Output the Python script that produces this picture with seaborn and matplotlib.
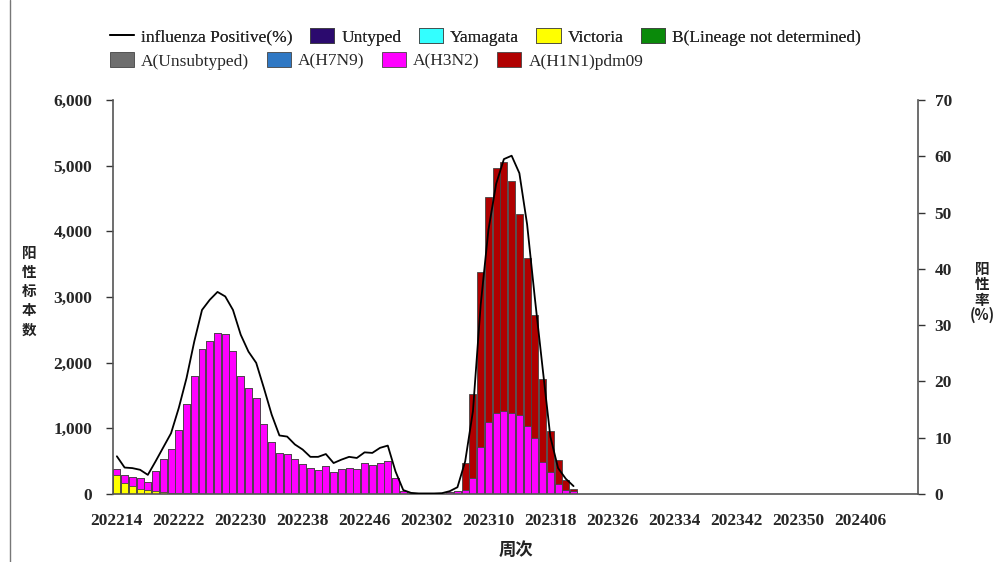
import numpy as np
import pandas as pd
import matplotlib
matplotlib.use("Agg")
import matplotlib.pyplot as plt
import seaborn as sns
from matplotlib.lines import Line2D
from matplotlib.patches import Patch

# week categories 202214 .. 202413
weeks = ([f"2022{w:02d}" for w in range(14, 53)] + [f"2023{w:02d}" for w in range(1, 53)]
         + [f"2024{w:02d}" for w in range(1, 14)])
tick_labels = ["202214", "202222", "202230", "202238", "202246", "202302", "202310",
               "202318", "202326", "202334", "202342", "202350", "202406"]

# counts per week, 202214 .. 202321
victoria = [282, 170, 128, 77, 56, 41, 31, 20, 15, 10, 8, 6, 5, 4, 4, 3, 3, 3, 2, 2,
            2, 2, 2, 2, 2, 2, 2, 2, 2, 2, 2, 2, 2, 2, 2, 2, 1, 0, 0, 0,
            0, 0, 0, 0, 0, 0, 0, 0, 0, 0, 0, 0, 0, 0, 0, 0, 0, 0, 0, 0]
h3n2 = [103, 112, 134, 164, 124, 308, 497, 662, 959, 1364, 1787, 2199, 2323, 2447, 2437, 2176,
        1792, 1617, 1465, 1065, 783, 618, 603, 526, 459, 388, 367, 418, 336, 383, 398, 383,
        464, 434, 475, 495, 245, 41, 15, 5, 2, 2, 3, 30, 40, 66, 244, 711, 1091, 1234,
        1269, 1234, 1198, 1030, 853, 487, 335, 157, 66, 41]
h1n1 = [0] * 44 + [10, 406, 1284, 2665, 3427, 3730, 3782, 3538, 3071, 2564, 1878, 1264,
                   629, 356, 142, 35]
positive_rate = [6.7, 4.7, 4.6, 4.3, 3.4, 5.8, 8.3, 10.8, 15.3, 20.6, 27.1, 32.7, 34.5, 35.9,
                 35.1, 32.7, 28.3, 25.3, 23.3, 18.8, 14.1, 10.4, 10.2, 8.8, 7.9, 6.6, 6.6, 7.1,
                 5.5, 6.1, 6.6, 6.4, 7.4, 7.3, 8.2, 8.6, 4.0, 0.7, 0.2, 0.1, 0.1, 0.1, 0.15,
                 0.5, 1.2, 5.8, 14.7, 33.6, 46.9, 55.1, 59.5, 60.1, 57.0, 47.9, 34.8, 22.4,
                 10.2, 4.6, 2.7, 1.4]

legend_row1 = [("Untyped", "#2B0A6E"), ("Yamagata", "#33FFFF"), ("Victoria", "#FFFF00"),
               ("B(Lineage not determined)", "#0A8A0A")]
legend_row2 = [("A(Unsubtyped)", "#6E6E6E"), ("A(H7N9)", "#2F78C4"), ("A(H3N2)", "#FF00FF"),
               ("A(H1N1)pdm09", "#B00000")]

sns.set_style("white")
plt.rcParams["font.family"] = ["Liberation Serif", "Noto Sans CJK SC"]
cjk = ["Noto Sans CJK SC", "DejaVu Sans"]
axis_grey = "#555555"

fig = plt.figure(figsize=(9.95, 5.62), dpi=100)
ax = fig.add_axes([113 / 995, 1 - 494 / 562, 805 / 995, 394 / 562])

n = len(h3n2)
df = pd.DataFrame({"week": weeks[:n], "victoria": victoria, "h3n2": h3n2, "h1n1": h1n1})
df["c1"] = df["victoria"]
df["c2"] = df["c1"] + df["h3n2"]
df["c3"] = df["c2"] + df["h1n1"]

# stacked bars: draw cumulative totals from the top layer down
for col, color in [("c3", "#B00000"), ("c2", "#FF00FF"), ("c1", "#FFFF00")]:
    d = df[df[col] > 0]
    sns.barplot(data=d, x="week", y=col, order=weeks, color=color, saturation=1,
                width=0.9, edgecolor="#444444", linewidth=0.6, ax=ax)

ax2 = ax.twinx()
sns.lineplot(x=np.arange(n), y=positive_rate, color="black", linewidth=1.3, ax=ax2)

ax.set_xlim(-0.5, len(weeks) - 0.5)
ax2.set_xlim(-0.5, len(weeks) - 0.5)
ax.set_ylim(0, 6000)
ax2.set_ylim(0, 70)

tick_font = dict(fontsize=12.5, fontweight="bold", family="Liberation Serif")
ax.set_xticks([weeks.index(t) for t in tick_labels], tick_labels, **tick_font)
ax.set_xticks(np.arange(0, len(weeks) + 1, 8) - 0.5, minor=True)
ax.tick_params(axis="x", which="major", length=0, pad=14)
ax.tick_params(axis="x", which="minor", length=7, width=1, direction="inout", color="#333333")
ax.set_yticks(range(0, 6001, 1000), [f"{v:,}" for v in range(0, 6001, 1000)], **tick_font)
ax.tick_params(axis="y", length=5, width=1, direction="out", pad=10, color="#333333", left=True)
ax2.set_yticks(range(0, 71, 10), [str(v) for v in range(0, 71, 10)], **tick_font)
ax2.tick_params(axis="y", length=5, width=1, direction="out", pad=7, color="#333333", right=True)

ax.set_xlabel("")
ax.set_ylabel("")
ax2.set_ylabel("")
for a in (ax, ax2):
    a.spines["top"].set_visible(False)
    for s in a.spines.values():
        s.set_color(axis_grey)
        s.set_linewidth(1.2)
ax.spines["right"].set_visible(False)
ax2.spines["left"].set_visible(False)
ax2.spines["bottom"].set_visible(False)

fig.text(29 / 995, 1 - 291 / 562, "\n".join("阳性标本数"), ha="center", va="center",
         fontsize=10.5, fontweight="bold", family=cjk, linespacing=1.25, color="#222222")
fig.text(982 / 995, 1 - 292 / 562, "阳\n性\n率\n(%)", ha="center", va="center",
         fontsize=10.5, fontweight="bold", family=cjk, linespacing=0.95, color="#222222")
fig.text(516 / 995, 1 - 550 / 562, "周次", ha="center", va="center",
         fontsize=12.5, fontweight="bold", family=cjk, color="#222222")

leg_kw = dict(loc="center left", frameon=False, handlelength=1.4, handleheight=0.9,
              handletextpad=0.4, columnspacing=1.0, borderpad=0, borderaxespad=0,
              prop={"family": "Liberation Serif", "size": 12.5})
h1 = [Line2D([], [], color="black", lw=1.3)] + [Patch(facecolor=c, edgecolor="#444444", lw=0.6)
                                                for _, c in legend_row1]
l1 = ["influenza Positive(%)"] + [t for t, _ in legend_row1]
leg1 = fig.legend(h1, l1, ncol=len(h1), bbox_to_anchor=(110 / 995, 1 - 37 / 562), **leg_kw)
h2 = [Patch(facecolor=c, edgecolor="#444444", lw=0.6) for _, c in legend_row2]
l2 = [t for t, _ in legend_row2]
fig.legend(h2, l2, ncol=len(h2), bbox_to_anchor=(110 / 995, 1 - 61 / 562), **leg_kw)
fig.add_artist(leg1)

fig.add_artist(Line2D([10 / 995, 10 / 995], [0, 1], color="#777777", lw=1))

fig.savefig("out.png", dpi=100)
